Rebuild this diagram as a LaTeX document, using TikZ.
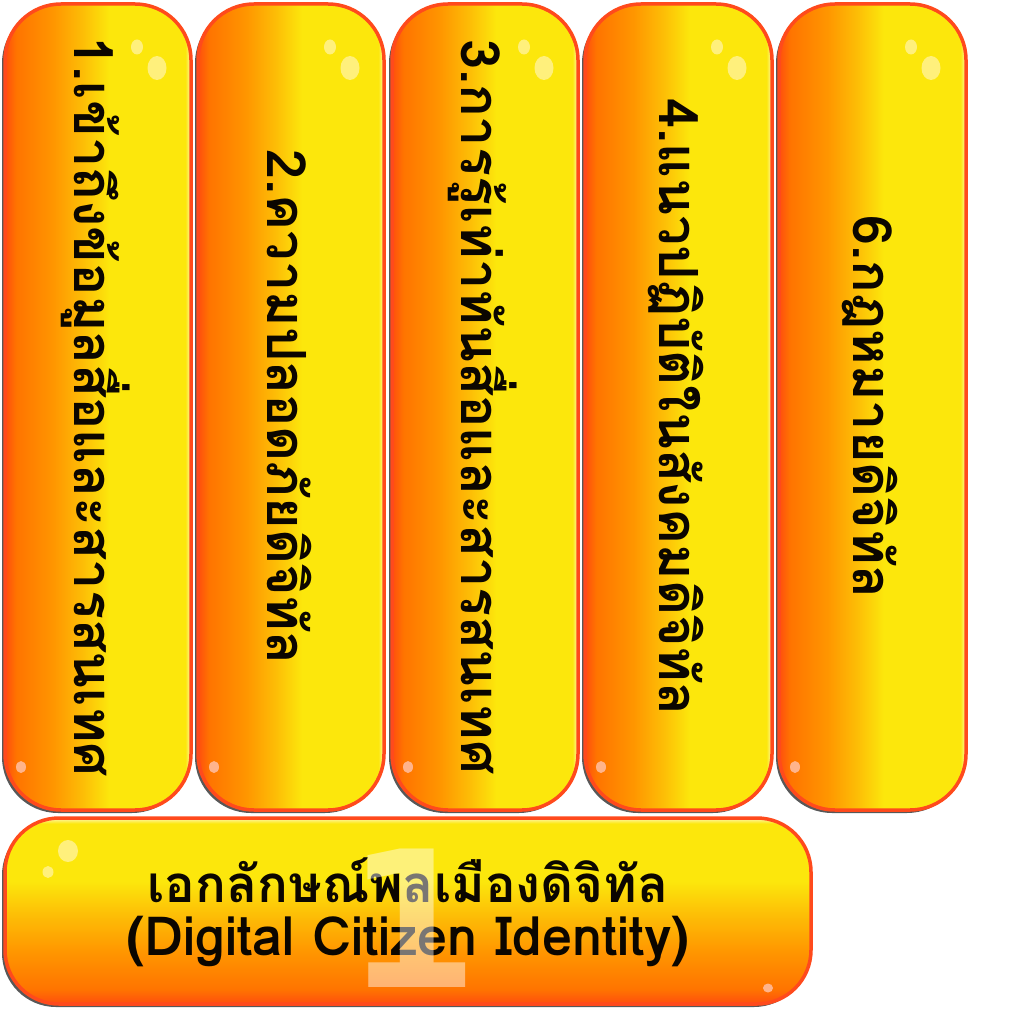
\documentclass[tikz,border=0pt]{standalone}
\usepackage{fontspec}
\newfontfamily\thaifont[Script=Thai]{Loma}
\newfontfamily\badgefont{DejaVu Sans}
\usetikzlibrary{positioning}
\definecolor{rimred}{HTML}{FF4A1C}
\definecolor{deeporange}{HTML}{FF4E0E}
\definecolor{hotorange}{HTML}{FF7400}
\definecolor{midorange}{HTML}{FF9600}
\definecolor{amber}{HTML}{FDBE06}
\definecolor{sunyellow}{HTML}{FCE70C}
\definecolor{paleyellow}{HTML}{FFF8B0}
\definecolor{bubble}{HTML}{FFF07C}
\definecolor{dotpink}{HTML}{FFB48C}
\definecolor{shadowgrey}{HTML}{585858}
\definecolor{inkblack}{HTML}{0B0600}
\pgfdeclarehorizontalshading{pillside}{100bp}{color(0bp)=(deeporange); color(25bp)=(deeporange); color(28bp)=(hotorange); color(38bp)=(midorange); color(46bp)=(amber); color(53bp)=(sunyellow); color(73.5bp)=(sunyellow); color(75bp)=(paleyellow); color(100bp)=(paleyellow)}
\pgfdeclareverticalshading{barside}{100bp}{color(0bp)=(deeporange); color(25bp)=(deeporange); color(29bp)=(hotorange); color(39bp)=(midorange); color(49bp)=(amber); color(58bp)=(sunyellow); color(73.5bp)=(sunyellow); color(75bp)=(paleyellow); color(100bp)=(paleyellow)}
\begin{document}
\begin{tikzpicture}[x=1pt,y=-1pt,
  pill/.style={draw=rimred,line width=3.5pt,rounded corners=56pt,shade,shading=pillside,
    preaction={fill=shadowgrey,transform canvas={shift={(-3pt,-3pt)}}}},
  bar/.style={pill,shading=barside,rounded corners=54pt},
  glint/.style={fill=bubble},
  speck/.style={fill=dotpink},
  sidelabel/.style={rotate=-90,inner sep=0pt,text=inkblack,font=\thaifont\bfseries\fontsize{54}{60}\selectfont},
  barlabel/.style={align=center,inner sep=0pt,text=inkblack,font=\thaifont\bfseries\fontsize{51}{53}\selectfont}]
  \useasboundingbox (0,0) rectangle (1024,1024);

  \path[pill] (5,4) rectangle (191,810);
  \path[pill] (198,4) rectangle (384,810);
  \path[pill] (392,4) rectangle (578,810);
  \path[pill] (585,4) rectangle (772,810);
  \path[pill] (779,4) rectangle (966,810);
  \path[bar] (5,818) rectangle (811,1004);

  \fill[glint] (137,47) ellipse (6 and 7.5);\fill[glint] (157,68) ellipse (9.5 and 12);\fill[speck] (21,767) ellipse (5 and 6);
  \fill[glint] (330,47) ellipse (6 and 7.5);\fill[glint] (350,68) ellipse (9.5 and 12);\fill[speck] (214,767) ellipse (5 and 6);
  \fill[glint] (524,47) ellipse (6 and 7.5);\fill[glint] (544,68) ellipse (9.5 and 12);\fill[speck] (408,767) ellipse (5 and 6);
  \fill[glint] (717,47) ellipse (6 and 7.5);\fill[glint] (737,68) ellipse (9.5 and 12);\fill[speck] (601,767) ellipse (5 and 6);
  \fill[glint] (911,47) ellipse (6 and 7.5);\fill[glint] (931,68) ellipse (9.5 and 12);\fill[speck] (795,767) ellipse (5 and 6);
  \fill[glint] (68,851) ellipse (10 and 11);\fill[glint] (48,872) ellipse (5.5 and 6);\fill[speck] (768,988) ellipse (5 and 4.5);

  \node[sidelabel] (access) at (96,407) {1.เข้าถึงข้อมูลสื่อและสารสนเทศ};
  \node[sidelabel] (safety) at (289,407) {2.ความปลอดภัยดิจิทัล};
  \node[sidelabel] (literacy) at (483,407) {3.การรู้เท่าทันสื่อและสารสนเทศ};
  \node[sidelabel] (etiquette) at (676,407) {4.แนวปฏิบัติในสังคมดิจิทัล};
  \node[sidelabel] (law) at (870,407) {6.กฎหมายดิจิทัล};

  \node[barlabel] (identity) at (408,912) {เอกลักษณ์พลเมืองดิจิทัล\\{\fontsize{54}{54}\selectfont(Digital Citizen Identity)}};
  \node[text=white,opacity=0.45,inner sep=0pt,font=\badgefont\bfseries\fontsize{190}{190}\selectfont] (badge) at (413,918) {1};
\end{tikzpicture}
\end{document}
